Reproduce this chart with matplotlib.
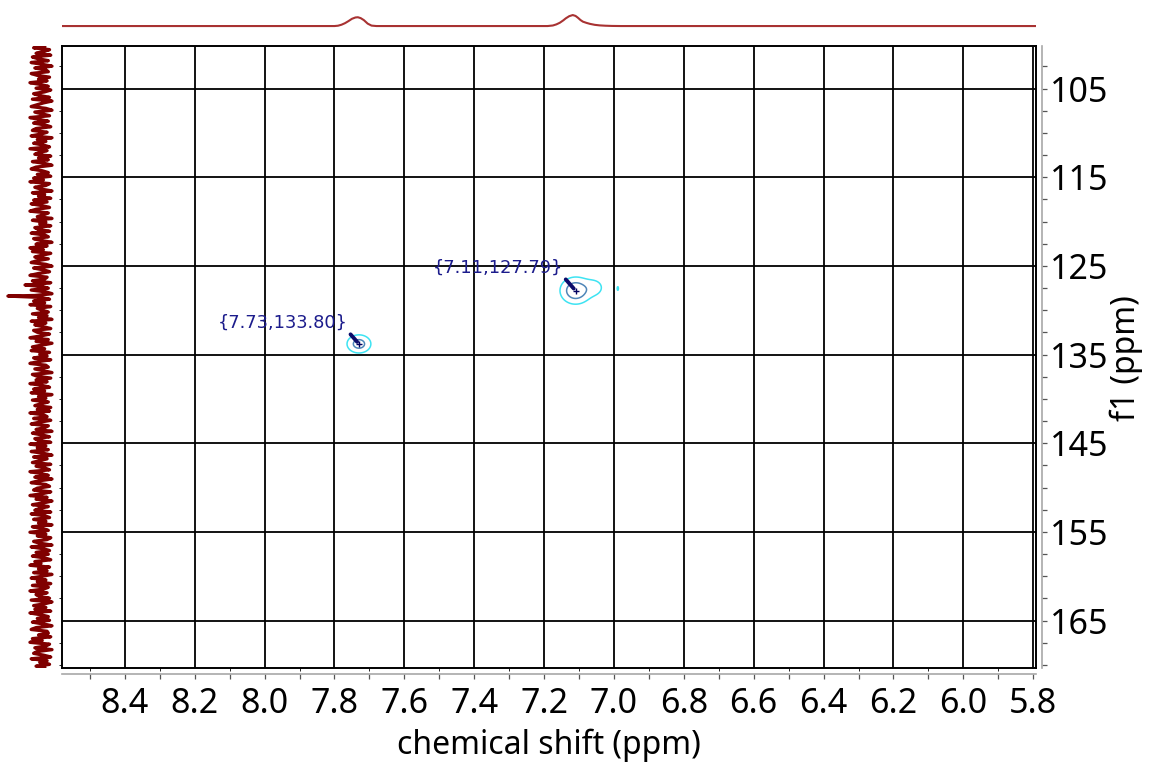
import matplotlib

matplotlib.use("Agg")
import matplotlib.pyplot as plt
import numpy as np
from matplotlib.ticker import FixedLocator, MultipleLocator, FormatStrFormatter

# 2D cross peaks (f2 ppm, f1 ppm) with their labels
peak_f2 = [7.73, 7.11]
peak_f1 = [133.80, 127.79]
peak_labels = ["{7.73,133.80}", "{7.11,127.79}"]
label_f2 = [7.762, 7.146]
label_f1 = [131.45, 125.25]

# contour model terms: centre f2, centre f1, height, width f2, width f1
blob_f2 = [7.73, 7.11, 7.058, 6.989]
blob_f1 = [133.80, 127.79, 127.45, 127.55]
blob_amp = [1.0, 1.3, 0.35, 0.24]
blob_wf2 = [0.019, 0.023, 0.02, 0.003]
blob_wf1 = [0.57, 0.79, 0.68, 0.34]
contour_levels_outer = [0.2]
contour_levels_inner = [0.7]

# top 1H projection
top_ppm = [8.58, 7.80, 7.79, 7.78, 7.77, 7.76, 7.75, 7.74, 7.733, 7.725, 7.716, 7.705,
           7.694, 7.68, 7.19, 7.175, 7.165, 7.155, 7.145, 7.138, 7.128, 7.118, 7.11,
           7.103, 7.096, 7.089, 7.079, 7.069, 7.055, 7.041, 7.025, 7.006, 6.98, 5.79]
top_int = [0, 0, 0.3, 1.2, 2.6, 4.5, 6.6, 7.8, 8.0, 7.2, 5.4, 2.2,
           0.4, 0, 0, 0.5, 1.5, 3.0, 5.2, 7.0, 9.0, 10.0, 9.2,
           7.5, 5.5, 4.0, 2.9, 2.0, 1.1, 0.6, 0.3, 0.1, 0, 0]

# left 13C projection: baseline noise plus two spikes
noise = [
    3, -6, 7, 2, -4, 8, -7, -2, 6, -8, 1, 9, -5, 4, 6, -8, -3, 7, -2, 5,
    -9, 0, 6, -4, 8, 3, -6, -1, 7, -7, 9, 2, -3, -8, 4, 9, -5, 1, 7, -9,
    -2, 6, -6, 3, 8, -4, -7, 5, 0, -8, 9, -3, 4, -6, 2, 7, -9, 5, -1, -5,
    8, -2, 6, -7, 3, 9, -4, -8, 1, 6, -3, 8, -6, 2, -9, 7, 4, -5, 0, 9,
    -7, 3, -2, 8, -6, 5, -8, 1, 7, -4, -9, 6, 2, -3, 9, -7, 4, -1, 8, -5,
    -2, 7, -8, 3, 6, -6, 0, 9, -4, 5, -9, 2, -7, 8, 1, -5, 6, -3, -8, 4,
    9, -6, 2, 7, -2, -9, 5, 3, -7, 8, -4, 0, 6, -8, 4, 9, -5, -1, 7, -6,
    3, -9, 8, -3, 1, 6, -7, 5, -2, 9, -8, 4, -5, 2, 8, -6, -3, 7, 0, -9,
    6, -4, 9, 1, -7, 3, -8, 7, -1, 5, -6, 8, -2, -9, 4, 6, -5, 2, 9, -7,
    -3, 8, -4, 5, -9, 1, 7, -6, 3, -8, 9, -2, 4, -7, 6, 0, -5, 8, -3, 7,
    -9, 2, 5, -6, 8, -1, -8, 6, 3, -4, 9, -7, 1, 7, -5, -2, 8, -9, 4, -3,
    6, -8, 2, 9, -6, 5, -1, -7, 8, -4, 3, 7, -9, 0, 6, -5, 9, -2, -8, 4,
    7, -3, -6, 8, 1, -9, 5, -4, 9, 2, -7, 6, -1, -5, 8, -8, 3, 7, -6, 4,
    -2, 9, -7, 1, 6, -9, 4, -3, 8, 5, -6, -1, 9, -8, 2, 7, -4, 6, -7, 3,
    8, -5, 0, -9, 7, -2, 5, -6, 9, 1, -8, 4, -3, 8, -7, 6, 2, -9, 5, -4,
    -1, 7, -8, 9, 3, -6, 4, -5, 8, -9, 0, 6, -3, 7, -7, 2, 9, -4, -8, 5,
    6, -2, 8, -7, 1, -9, 7, 4, -5, 9, -3, -6, 2, 8, -8, 5, -1, 7, -4, 3,
]
spike_ppm = [127.15, 128.4]
spike_val = [-13, -27]

f2_lim = (8.58, 5.792)
f1_lim = (170.35, 100.2)

W, H = 1150, 767
fig = plt.figure(figsize=(W / 100, H / 100), dpi=100)
plt.rcParams["font.family"] = ["Noto Sans", "DejaVu Sans"]


def rect(x0, y0, x1, y1):
    return [x0 / W, 1 - y1 / H, (x1 - x0) / W, (y1 - y0) / H]


ax = fig.add_axes(rect(62, 46, 1036, 668))
ax.set_xlim(*f2_lim)
ax.set_ylim(*f1_lim)
ax.set_xticks(np.arange(5.8, 8.5, 0.2))
ax.set_yticks(np.arange(105, 171, 5))
ax.tick_params(length=0, labelbottom=False, labelleft=False)
ax.grid(True, color="black", linewidth=1.3)
ax.set_axisbelow(True)
for s in ax.spines.values():
    s.set_color("black")
    s.set_linewidth(1.4)

# contours
gx = np.linspace(6.9, 7.85, 700)
gy = np.linspace(123.0, 138.0, 500)
GX, GY = np.meshgrid(gx, gy)
Z = np.zeros_like(GX)
for cx, cy, a, wx, wy in zip(blob_f2, blob_f1, blob_amp, blob_wf2, blob_wf1):
    Z += a * np.exp(-((GX - cx) ** 2) / (2 * wx ** 2) - ((GY - cy) ** 2) / (2 * wy ** 2))
ax.contour(GX, GY, Z, levels=contour_levels_outer, colors="#3ee3f2", linewidths=1.1)
ax.contour(GX, GY, Z, levels=contour_levels_inner, colors="#4f86b8", linewidths=1.1)

for px, py, lab, tx, ty in zip(peak_f2, peak_f1, peak_labels, label_f2, label_f1):
    ax.plot(px, py, "+", color="#000060", ms=5, mew=1)
    ax.annotate(lab, xy=(px, py), xytext=(tx, ty), textcoords="data",
                ha="right", va="center", color="#1c1c8c", fontsize=12.8,
                family="DejaVu Sans",
                arrowprops=dict(arrowstyle="-", color="#0c0c6a", lw=2.8,
                                shrinkA=0, shrinkB=2, relpos=(1.0, 0.05)))

# rulers (bottom and right)
rul = fig.add_axes(rect(62, 46, 1036, 668), sharex=ax, sharey=ax)
rul.patch.set_visible(False)
rul.grid(False)
for side in ("top", "left"):
    rul.spines[side].set_visible(False)
for side in ("bottom", "right"):
    rul.spines[side].set_position(("outward", 4.3))
    rul.spines[side].set_color("#a8a8a8")
    rul.spines[side].set_linewidth(1.2)
rul.yaxis.tick_right()
rul.xaxis.set_major_locator(FixedLocator(np.round(np.arange(5.8, 8.41, 0.2), 1)))
rul.xaxis.set_minor_locator(MultipleLocator(0.1))
rul.xaxis.set_major_formatter(FormatStrFormatter("%.1f"))
rul.yaxis.set_major_locator(FixedLocator(np.arange(105, 166, 10)))
rul.yaxis.set_minor_locator(MultipleLocator(2.5))
rul.tick_params(which="both", direction="out", length=3.6, width=0.9, color="#555555",
                labelsize=24.5, labelcolor="black")
rul.tick_params(axis="x", which="both", pad=6)
rul.tick_params(axis="y", which="both", pad=2)
rul.set_xlim(*f2_lim)
rul.set_ylim(*f1_lim)

fig.text(549 / W, 1 - 745 / H, "chemical shift (ppm)", ha="center", va="center", fontsize=23)
fig.text(1126 / W, 1 - 358 / H, "f1 (ppm)", ha="center", va="center", rotation=90, fontsize=23)

# top projection
top = fig.add_axes(rect(62, 10, 1036, 30))
top.plot(top_ppm, top_int, color="#a83232", linewidth=1.5)
top.set_xlim(*f2_lim)
top.set_ylim(-3.6, 14.6)
top.axis("off")

# left projection
ppm_noise = np.linspace(f1_lim[1], f1_lim[0], len(noise))
left_ppm = np.concatenate([ppm_noise, spike_ppm])
left_val = np.concatenate([noise, spike_val])
order = np.argsort(left_ppm)
left = fig.add_axes(rect(0, 46, 62, 668), sharey=ax)
left.plot(left_val[order], left_ppm[order], color="#800000", linewidth=2.4)
left.set_xlim(-33.5, 17.2)
left.set_ylim(*f1_lim)
left.axis("off")

fig.savefig("out.png", dpi=100)
plt.close(fig)
